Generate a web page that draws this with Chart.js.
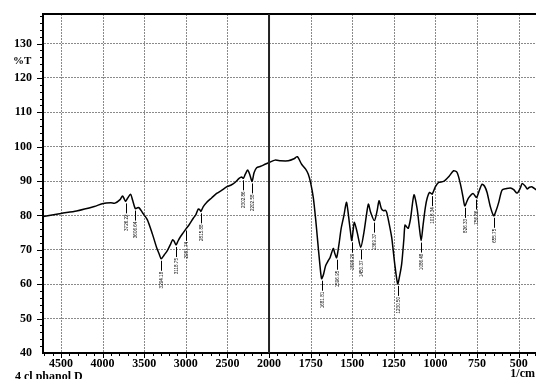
<!DOCTYPE html>
<html>
<head>
<meta charset="utf-8">
<script src="https://cdn.jsdelivr.net/npm/chart.js@4/dist/chart.umd.min.js"></script>
<style>
  html, body { margin: 0; padding: 0; background: #fff; }
  canvas { display: block; }
</style>
</head>
<body>
<canvas id="irChart" width="536" height="379"></canvas>
<script>
// IR spectrum, wavenumber (1/cm) vs %T
const wavenumbers = [
  4713, 4500, 4313, 4100, 3992, 3900, 3851, 3790, 3760, 3740, 3724, 3700, 3664, 3640, 3607, 3585, 3563, 3520,
  3463, 3400, 3351, 3320, 3295, 3260, 3222, 3180, 3159, 3140, 3118, 3095, 3070, 3030, 2998, 2960, 2910, 2880,
  2850, 2830, 2817, 2790, 2750, 2690, 2630, 2570, 2510, 2460, 2409, 2360, 2329, 2309, 2285, 2257, 2230, 2204,
  2180, 2149, 2100, 2048, 2000, 1964, 1930, 1884, 1850, 1830, 1804, 1780, 1764, 1750, 1734, 1720, 1708, 1695,
  1684, 1672, 1660, 1645, 1633, 1614, 1605, 1594, 1580, 1567, 1550, 1535, 1525, 1519, 1510, 1503, 1495, 1487,
  1470, 1449, 1430, 1415, 1403, 1390, 1367, 1350, 1339, 1325, 1313, 1300, 1293, 1280, 1263, 1245, 1227, 1215,
  1203, 1190, 1183, 1170, 1163, 1150, 1129, 1110, 1098, 1086, 1075, 1061, 1050, 1035, 1020, 1001, 981, 951,
  920, 891, 870, 850, 835, 824, 812, 800, 774, 754, 735, 720, 705, 690, 670, 650, 635, 620, 600, 575, 550,
  530, 510, 490, 479, 460, 449, 435, 419, 393
];
const transmittance = [
  79.7, 80.6, 81.3, 82.6, 83.5, 83.7, 83.6, 84.6, 85.7, 84.8, 84.1, 85.0, 86.2, 84.5, 82.0, 82.2, 82.3, 80.8,
  78.8, 74.5, 70.7, 68.8, 67.4, 68.5, 69.8, 71.8, 72.9, 72.5, 71.4, 72.5, 73.6, 75.0, 76.1, 77.3, 79.2, 80.2,
  81.9, 81.6, 81.2, 82.6, 83.8, 85.1, 86.4, 87.3, 88.3, 88.8, 89.6, 90.8, 91.2, 90.8, 92.0, 93.2, 91.8, 89.9,
  92.4, 93.9, 94.3, 94.9, 95.4, 96.1, 95.9, 95.9, 96.5, 97.1, 94.9, 93.5, 92.0, 89.5, 85.2, 79.0, 72.7, 66.0,
  61.6, 63.0, 65.4, 66.8, 67.8, 70.4, 69.0, 67.7, 71.5, 76.1, 80.0, 83.8, 81.0, 78.5, 75.0, 72.7, 75.5, 78.0,
  75.0, 70.7, 75.0, 80.0, 83.3, 81.0, 78.5, 81.5, 84.3, 82.0, 81.4, 81.5, 80.9, 78.0, 73.6, 66.0, 60.1, 62.5,
  65.9, 73.0, 77.2, 76.5, 76.3, 79.0, 86.0, 81.9, 77.0, 72.7, 77.0, 82.3, 85.0, 86.7, 86.2, 88.3, 89.6, 89.9,
  91.3, 93.0, 92.5, 89.1, 85.5, 82.8, 84.0, 85.2, 86.4, 85.2, 87.5, 89.1, 88.5, 86.7, 82.5, 79.9, 81.5, 83.8, 87.4, 87.8, 88.0,
  87.5, 86.5, 88.0, 89.3, 88.5, 87.7, 88.2, 88.3, 87.4
];

// labelled peaks
const peakWn = [3724, 3607, 3295, 3118, 2998, 2817, 2309, 2204, 1684, 1594, 1503, 1449, 1367, 1227, 1086, 1020, 824, 754, 650];
const peakT = [84.1, 82.0, 67.4, 71.4, 76.1, 81.2, 90.8, 89.9, 61.6, 67.7, 72.7, 70.7, 78.5, 60.1, 72.7, 86.2, 82.8, 85.2, 79.9];
const peakText = ['3726.22', '3606.64', '3294.18', '3118.75', '2981.74', '2815.88', '2302.86', '2202.58', '1681.81',
  '1596.95', '1508.20', '1450.37', '1369.37', '1230.50', '1086.48', '1018.34', '826.33', '756.86', '655.75'];

const xTickLabels = ['4500', '4000', '3500', '3000', '2500', '2000', '1750', '1500', '1250', '1000', '750', '500'];
const yTickLabels = ['40', '50', '60', '70', '80', '90', '100', '110', '120', '130'];

// the spectrometer plots 4000-2000 at half the scale of 2000-400
const toAxis = w => (w <= 2000 ? w : 2000 + (w - 2000) / 2);

const points = wavenumbers.map((w, i) => ({ x: toAxis(w), y: transmittance[i] }));
const labelFont = 'bold 12px "Liberation Serif", serif';

const decor = {
  id: 'decor',
  beforeDatasetsDraw(chart) {
    const { ctx, chartArea: a, scales: { x } } = chart;
    ctx.save();
    ctx.strokeStyle = '#8a8a8a';
    ctx.lineWidth = 1;
    ctx.setLineDash([2, 1]);
    xTickLabels.forEach(l => {
      const px = Math.round(x.getPixelForValue(toAxis(+l))) + 0.5;
      ctx.beginPath(); ctx.moveTo(px, a.top); ctx.lineTo(px, a.bottom); ctx.stroke();
    });
    ctx.restore();
  },
  afterDraw(chart) {
    const { ctx, chartArea: a, scales: { x, y } } = chart;
    ctx.save();
    ctx.strokeStyle = '#000';
    // top border
    ctx.lineWidth = 2;
    ctx.beginPath(); ctx.moveTo(a.left - 1, a.top); ctx.lineTo(a.right, a.top); ctx.stroke();
    // scale break at 2000
    const xb = x.getPixelForValue(2000);
    ctx.strokeStyle = '#222';
    ctx.beginPath(); ctx.moveTo(xb, a.top); ctx.lineTo(xb, a.bottom); ctx.stroke();
    // tick marks
    ctx.strokeStyle = '#000';
    ctx.lineWidth = 1;
    for (let v = 42; v <= 138; v += 2) {
      const py = Math.round(y.getPixelForValue(v)) + 0.5;
      const len = v % 10 === 0 ? 6 : 3;
      ctx.beginPath(); ctx.moveTo(a.left, py); ctx.lineTo(a.left - len, py); ctx.stroke();
    }
    for (let u = 400; u <= 3350; u += 50) {
      const px = Math.round(x.getPixelForValue(u)) + 0.5;
      const len = u % 250 === 0 ? 5 : 3;
      ctx.beginPath(); ctx.moveTo(px, a.bottom); ctx.lineTo(px, a.bottom + len); ctx.stroke();
    }
    // tick labels
    ctx.fillStyle = '#000';
    ctx.font = labelFont;
    ctx.textAlign = 'center';
    ctx.textBaseline = 'middle';
    xTickLabels.forEach(l => ctx.fillText(l, x.getPixelForValue(toAxis(+l)), a.bottom + 11));
    ctx.textAlign = 'right';
    yTickLabels.forEach(l => ctx.fillText(l, 32, y.getPixelForValue(+l)));
    // peak annotations
    ctx.font = '4.6px "Liberation Sans", sans-serif';
    peakWn.forEach((w, i) => {
      const px = Math.round(x.getPixelForValue(toAxis(w))) + 0.5;
      const py = y.getPixelForValue(peakT[i]);
      ctx.beginPath(); ctx.moveTo(px, py + 2); ctx.lineTo(px, py + 12); ctx.stroke();
      ctx.save();
      ctx.translate(px, py + 13);
      ctx.rotate(-Math.PI / 2);
      ctx.textAlign = 'right';
      ctx.textBaseline = 'middle';
      ctx.fillText(peakText[i], 0, 0);
      ctx.restore();
    });
    // texts
    ctx.font = 'bold 11px "Liberation Serif", serif';
    ctx.textAlign = 'left';
    ctx.textBaseline = 'middle';
    ctx.fillText('%T', 13, 61);
    ctx.font = labelFont;
    ctx.textBaseline = 'top';
    ctx.fillText('4 cl phanol D', 15, 371);
    ctx.textAlign = 'right';
    ctx.fillText('1/cm', 535, 368);
    ctx.restore();
  }
};

new Chart(document.getElementById('irChart'), {
  type: 'line',
  data: {
    datasets: [{
      data: points,
      borderColor: '#000',
      borderWidth: 1.5,
      pointRadius: 0,
      tension: 0.25,
      fill: false
    }]
  },
  options: {
    responsive: false,
    animation: false,
    layout: { padding: { top: 14, right: 0, left: 0, bottom: 0 } },
    plugins: { legend: { display: false }, tooltip: { enabled: false } },
    scales: {
      x: {
        type: 'linear',
        reverse: true,
        min: 396,
        max: 3358,
        afterFit: s => { s.height = 26; },
        ticks: { display: false },
        grid: { display: false, drawTicks: false },
        border: { display: true, color: '#000', width: 2 }
      },
      y: {
        min: 40,
        max: 138.6,
        afterBuildTicks: s => { s.ticks = s.ticks.filter(t => t.value % 10 === 0 && t.value > 40); },
        afterFit: s => { s.width = 43; },
        ticks: { stepSize: 10, display: false },
        grid: { color: '#8a8a8a', lineWidth: 1, drawTicks: false },
        border: { display: true, color: '#000', width: 2, dash: [2, 1] }
      }
    }
  },
  plugins: [decor]
});
</script>
</body>
</html>
